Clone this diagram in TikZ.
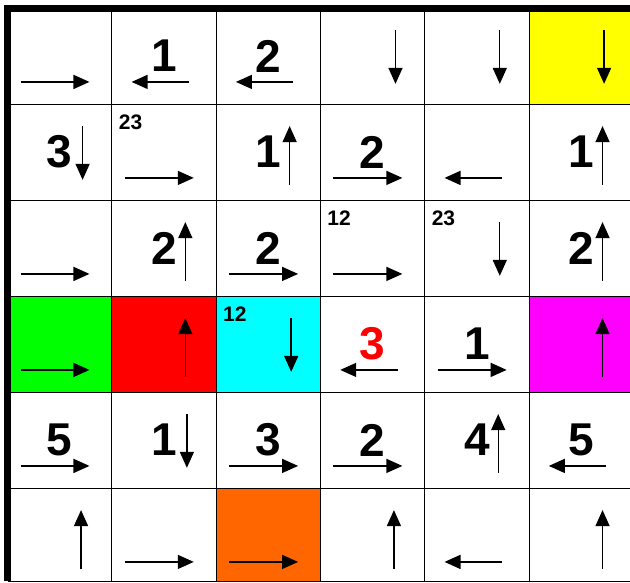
\documentclass[tikz,border=0pt]{standalone}
\usepackage{fontspec}
\setmainfont{Liberation Sans}
\usepackage{tikz}
\usetikzlibrary{arrows.meta}
\definecolor{cellyellow}{RGB}{255,255,0}
\definecolor{cellgreen}{RGB}{0,255,0}
\definecolor{cellred}{RGB}{255,0,0}
\definecolor{cellcyan}{RGB}{0,255,255}
\definecolor{cellmagenta}{RGB}{255,0,255}
\definecolor{cellorange}{RGB}{255,102,0}

\begin{document}
\begin{tikzpicture}[x=104.3pt, y=-96pt,
    cellarrow/.style={line width=1.4pt, -{Triangle[length=16pt, width=14pt]}},
    bignum/.style={font=\fontsize{46}{46}\selectfont\bfseries},
    smallnum/.style={font=\fontsize{21}{21}\selectfont\bfseries}]
    \useasboundingbox (0pt, 0pt) rectangle (630pt, -582pt);
    \clip (0pt, 0pt) rectangle (630pt, -582pt);
    \fill[white] (0pt, 0pt) rectangle (630pt, -582pt);
  \begin{scope}[shift={(7.5pt, -8pt)}]
    % coloured cells
    \fill[cellyellow] (5, 0) rectangle (6, 1);
    \fill[cellgreen] (0, 3) rectangle (1, 4);
    \fill[cellred] (1, 3) rectangle (2, 4);
    \fill[cellcyan] (2, 3) rectangle (3, 4);
    \fill[cellmagenta] (5, 3) rectangle (6, 4);
    \fill[cellorange] (2, 5) rectangle (3, 5.969);
    % grid
    \foreach \c in {1, ..., 5}
        \draw[line width=1pt] (\c, 0) -- (\c, 5.969);
    \foreach \r in {1, ..., 5, 5.969}
        \draw[line width=1pt] (0, \r) -- (6, \r);
    \draw[line width=7pt] (0, 5.969) -- (0, 0) -- (6, 0);
    % arrows
    \foreach \r/\c in {0/0, 1/1, 1/3, 2/0, 2/2, 2/3, 3/0, 3/4, 4/0, 4/2, 4/3, 5/1, 5/2}
        \draw[cellarrow] (\c+0.125, \r+0.77) -- (\c+0.786, \r+0.77);
    \foreach \r/\c in {0/1, 0/2, 1/4, 3/3, 4/5, 5/4}
        \draw[cellarrow] (\c+0.74, \r+0.77) -- (\c+0.19, \r+0.77);
    \foreach \r/\c in {0/3, 0/4, 0/5, 1/0, 2/4, 3/2, 4/1}
        \draw[cellarrow] (\c+0.72, \r+0.23) -- (\c+0.72, \r+0.79);
    \foreach \r/\c in {1/2, 1/5, 2/1, 2/5, 3/1, 3/5, 4/4, 5/0, 5/3, 5/5}
        \draw[cellarrow] (\c+0.705, \r+0.845) -- (\c+0.705, \r+0.23);
    % numbers
    \node[bignum] (n01) at (1.5, 0.5) {1};
    \node[bignum] (n02) at (2.5, 0.5) {2};
    \node[bignum] (n10) at (0.5, 1.5) {3};
    \node[bignum] (n12) at (2.5, 1.5) {1};
    \node[bignum] (n13) at (3.5, 1.5) {2};
    \node[bignum] (n15) at (5.5, 1.5) {1};
    \node[bignum] (n21) at (1.5, 2.5) {2};
    \node[bignum] (n22) at (2.5, 2.5) {2};
    \node[bignum] (n25) at (5.5, 2.5) {2};
    \node[bignum, text=cellred] (n33) at (3.5, 3.5) {3};
    \node[bignum] (n34) at (4.5, 3.5) {1};
    \node[bignum] (n40) at (0.5, 4.5) {5};
    \node[bignum] (n41) at (1.5, 4.5) {1};
    \node[bignum] (n42) at (2.5, 4.5) {3};
    \node[bignum] (n43) at (3.5, 4.5) {2};
    \node[bignum] (n44) at (4.5, 4.5) {4};
    \node[bignum] (n45) at (5.5, 4.5) {5};
    % small labels
    \node[smallnum] (s11) at (1.18, 1.19) {23};
    \node[smallnum] (s23) at (3.18, 2.19) {12};
    \node[smallnum] (s24) at (4.18, 2.19) {23};
    \node[smallnum] (s32) at (2.18, 3.19) {12};
  \end{scope}
\end{tikzpicture}
\end{document}
